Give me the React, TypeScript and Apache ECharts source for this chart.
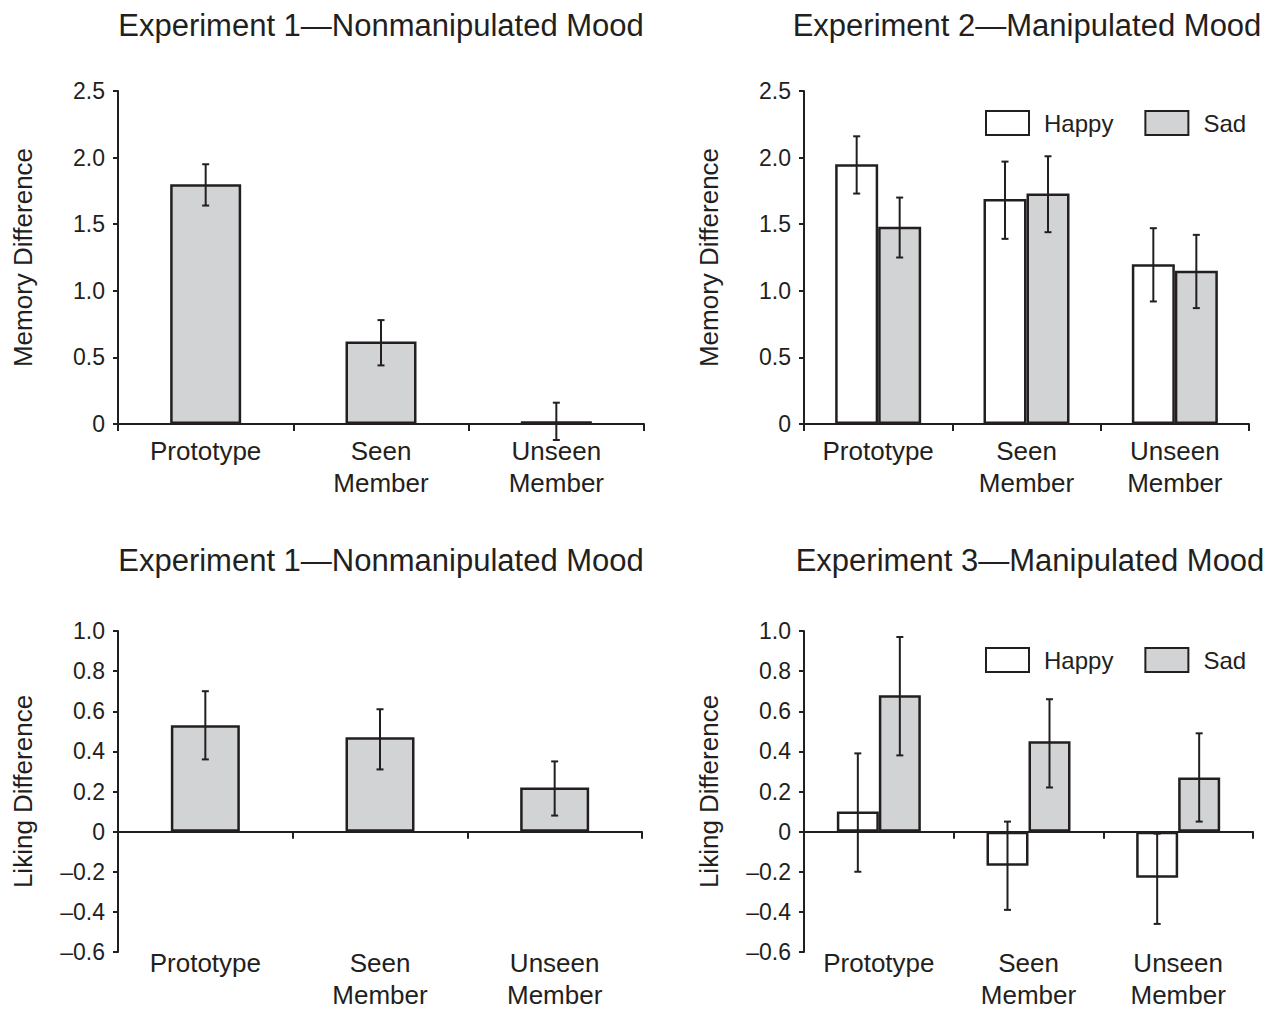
import React, { useEffect, useRef } from "react";
import * as echarts from "echarts";

const categories = ["Prototype", "Seen\nMember", "Unseen\nMember"];
const moodNames = ["Happy", "Sad"];

const exp1Memory = [1.8, 0.62, 0.02];
const exp1MemoryLow = [1.64, 0.44, -0.12];
const exp1MemoryHigh = [1.95, 0.78, 0.16];

const exp2Happy = [1.95, 1.69, 1.2];
const exp2HappyLow = [1.73, 1.39, 0.92];
const exp2HappyHigh = [2.16, 1.97, 1.47];
const exp2Sad = [1.48, 1.73, 1.15];
const exp2SadLow = [1.25, 1.44, 0.87];
const exp2SadHigh = [1.7, 2.01, 1.42];

const exp1Liking = [0.53, 0.47, 0.22];
const exp1LikingLow = [0.36, 0.31, 0.08];
const exp1LikingHigh = [0.7, 0.61, 0.35];

const exp3Happy = [0.1, -0.17, -0.23];
const exp3HappyLow = [-0.2, -0.39, -0.46];
const exp3HappyHigh = [0.39, 0.05, -0.01];
const exp3Sad = [0.68, 0.45, 0.27];
const exp3SadLow = [0.38, 0.22, 0.05];
const exp3SadHigh = [0.97, 0.66, 0.49];

const titles = [
  "Experiment 1\u2014Nonmanipulated Mood",
  "Experiment 2\u2014Manipulated Mood",
  "Experiment 1\u2014Nonmanipulated Mood",
  "Experiment 3\u2014Manipulated Mood",
];
const yNames = ["Memory Difference", "Memory Difference", "Liking Difference", "Liking Difference"];

const INK = "#231f20";
const GRAY = "#d1d3d4";
const FONT = "'Liberation Sans', Arial, Helvetica, sans-serif";

const fmt = (v: number) => {
  if (Math.abs(v) < 1e-9) return "0";
  return (v < 0 ? "\u2013" : "") + Math.abs(v).toFixed(1);
};

function errSeries(xi: number, yi: number, low: number[], high: number[], offset: number) {
  return {
    type: "custom",
    xAxisIndex: xi,
    yAxisIndex: yi,
    z: 10,
    silent: true,
    clip: false,
    encode: { x: 0, y: [1, 2] },
    data: low.map((l, i) => [i, l, high[i]]),
    renderItem: (params: any, api: any) => {
      const idx = api.value(0);
      const lo = api.coord([idx, api.value(1)]);
      const hi = api.coord([idx, api.value(2)]);
      const x = lo[0] + offset;
      const cap = 3.5;
      const style = { stroke: INK, lineWidth: 2 };
      return {
        type: "group",
        children: [
          { type: "line", shape: { x1: x, y1: lo[1], x2: x, y2: hi[1] }, style },
          { type: "line", shape: { x1: x - cap, y1: lo[1], x2: x + cap, y2: lo[1] }, style },
          { type: "line", shape: { x1: x - cap, y1: hi[1], x2: x + cap, y2: hi[1] }, style },
        ],
      };
    },
  };
}

function barSeries(name: string, xi: number, yi: number, data: number[], fill: string, width: number) {
  return {
    type: "bar",
    name,
    xAxisIndex: xi,
    yAxisIndex: yi,
    data,
    barWidth: width,
    barGap: "0%",
    itemStyle: { color: fill, borderColor: INK, borderWidth: 2.5 },
    emphasis: { disabled: true },
  };
}

function yAxis(gi: number, min: number, max: number, interval: number, name: string) {
  return {
    type: "value",
    gridIndex: gi,
    min,
    max,
    interval,
    name,
    nameLocation: "middle",
    nameRotate: 90,
    nameGap: 82,
    nameTextStyle: { fontSize: 26, color: INK, fontFamily: FONT },
    splitLine: { show: false },
    axisLine: { show: true, onZero: false, lineStyle: { color: INK, width: 2 } },
    axisTick: { show: true, length: 5, lineStyle: { color: INK, width: 2 } },
    axisLabel: { formatter: fmt, fontSize: 23, color: INK, fontFamily: FONT, margin: 13 },
  };
}

function xLineAxis(gi: number, showLabels: boolean) {
  return {
    type: "category",
    gridIndex: gi,
    data: categories,
    boundaryGap: true,
    axisLine: { show: true, onZero: true, lineStyle: { color: INK, width: 2 } },
    axisTick: { show: true, length: 7, lineStyle: { color: INK, width: 2 } },
    axisLabel: {
      show: showLabels,
      fontSize: 26,
      lineHeight: 32,
      color: INK,
      fontFamily: FONT,
      margin: 11,
      interval: 0,
    },
  };
}

function xLabelAxis(gi: number) {
  return {
    type: "category",
    gridIndex: gi,
    data: categories,
    position: "bottom",
    axisLine: { show: false, onZero: false },
    axisTick: { show: false },
    axisLabel: {
      show: true,
      fontSize: 26,
      lineHeight: 32,
      color: INK,
      fontFamily: FONT,
      margin: -5,
      interval: 0,
    },
  };
}

function legend(top: number) {
  return {
    data: moodNames,
    left: 985,
    top,
    padding: 0,
    itemWidth: 43,
    itemHeight: 24,
    itemGap: 31,
    icon: "rect",
    selectedMode: false,
    textStyle: { fontSize: 24, color: INK, fontFamily: FONT, padding: [0, 0, 0, 10] },
  };
}

export default function App() {
  const ref = useRef<HTMLDivElement>(null);
  useEffect(() => {
    if (!ref.current) return;
    const chart = echarts.init(ref.current, undefined, { renderer: "svg" });
    const titleCenters = [
      [381, 25],
      [1027, 25],
      [381, 560],
      [1030, 560],
    ];
    const option: any = {
      animation: false,
      textStyle: { fontFamily: FONT },
      grid: [
        { left: 118, top: 91, width: 526, height: 333 },
        { left: 804, top: 91, width: 445, height: 333 },
        { left: 118, top: 631, width: 524, height: 327 },
        { left: 804, top: 631, width: 449, height: 327 },
      ],
      xAxis: [
        xLineAxis(0, true),
        xLineAxis(1, true),
        xLineAxis(2, false),
        xLabelAxis(2),
        xLineAxis(3, false),
        xLabelAxis(3),
      ],
      yAxis: [
        yAxis(0, 0, 2.5, 0.5, yNames[0]),
        yAxis(1, 0, 2.5, 0.5, yNames[1]),
        yAxis(2, -0.6, 1.0, 0.2, yNames[2]),
        yAxis(3, -0.6, 1.0, 0.2, yNames[3]),
      ],
      legend: [legend(110), legend(647)],
      graphic: titles.map((t, i) => ({
        type: "text",
        x: titleCenters[i][0],
        y: titleCenters[i][1],
        style: {
          text: t,
          fontSize: 31,
          fontFamily: FONT,
          fill: INK,
          textAlign: "center",
          textVerticalAlign: "middle",
        },
      })),
      series: [
        barSeries("Exp1 Memory", 0, 0, exp1Memory, GRAY, 71),
        errSeries(0, 0, exp1MemoryLow, exp1MemoryHigh, 0),

        barSeries(moodNames[0], 1, 1, exp2Happy, "#ffffff", 43),
        barSeries(moodNames[1], 1, 1, exp2Sad, GRAY, 43),
        errSeries(1, 1, exp2HappyLow, exp2HappyHigh, -21.5),
        errSeries(1, 1, exp2SadLow, exp2SadHigh, 21.5),

        barSeries("Exp1 Liking", 2, 2, exp1Liking, GRAY, 69),
        errSeries(2, 2, exp1LikingLow, exp1LikingHigh, 0),

        barSeries(moodNames[0], 4, 3, exp3Happy, "#ffffff", 42),
        barSeries(moodNames[1], 4, 3, exp3Sad, GRAY, 42),
        errSeries(4, 3, exp3HappyLow, exp3HappyHigh, -21),
        errSeries(4, 3, exp3SadLow, exp3SadHigh, 21),
      ],
    };
    chart.setOption(option);
    return () => chart.dispose();
  }, []);
  return (
    <div
      ref={ref}
      style={{ position: "absolute", left: 0, top: 0, width: 1280, height: 1011, background: "#ffffff" }}
    />
  );
}
